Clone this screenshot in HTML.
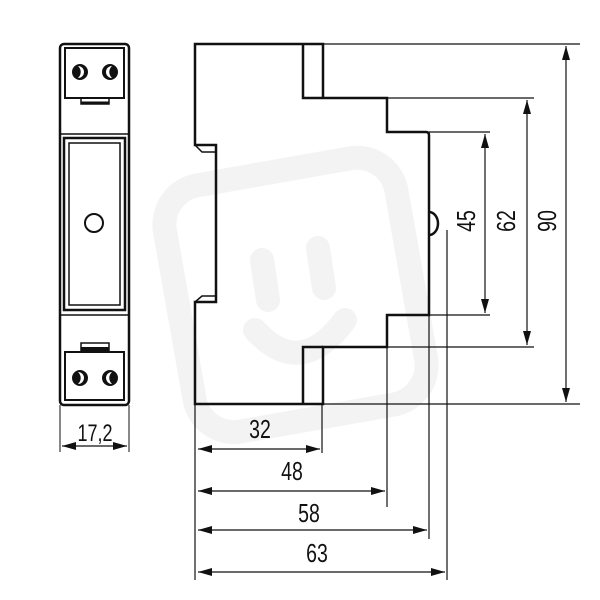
<!DOCTYPE html>
<html><head><style>body{margin:0;background:#fff}svg{display:block}text{font-family:"Liberation Sans",sans-serif;fill:#111}</style></head><body>
<svg width="600" height="600" viewBox="0 0 600 600" xmlns="http://www.w3.org/2000/svg">
<defs>
<marker id="a" viewBox="0 0 14 8" refX="14" refY="4" markerWidth="14" markerHeight="8" markerUnits="userSpaceOnUse" orient="auto-start-reverse"><path d="M0,0L14,4L0,8z" fill="#111"/></marker>
</defs>
<g fill="none" stroke="#f3f3f3" stroke-width="24" stroke-linecap="round">
<rect x="178" y="170" width="235" height="250" rx="40" transform="rotate(-10 295 295)"/>
<path d="M262 260 L268 300 M318 248 L324 288 M255 330 Q300 380 345 320"/>
</g>
<g fill="none" stroke="#111">
<rect x="60" y="44" width="69" height="361" rx="4" stroke-width="2.5"/>
<rect x="65" y="48" width="59" height="50" stroke-width="2"/>
<rect x="81" y="98" width="28" height="6" stroke-width="1.5"/>
<line x1="81" y1="103" x2="109" y2="103" stroke-width="3"/>
<line x1="60" y1="134" x2="129" y2="134" stroke-width="1.5"/>
<rect x="64" y="138" width="61" height="172" stroke-width="2.5"/>
<rect x="69" y="143" width="51" height="162" stroke-width="1.5"/>
<circle cx="94" cy="223" r="9" stroke-width="2"/>
<line x1="60" y1="315" x2="129" y2="315" stroke-width="1.5"/>
<rect x="81" y="343" width="28" height="8" stroke-width="1.5"/>
<line x1="81" y1="349" x2="109" y2="349" stroke-width="4"/>
<rect x="65" y="352" width="59" height="48" stroke-width="2"/>
<line x1="60" y1="405" x2="60" y2="452" stroke-width="1"/>
<line x1="129" y1="405" x2="129" y2="452" stroke-width="1"/>
<line x1="62" y1="446" x2="127" y2="446" stroke-width="1.3" marker-start="url(#a)" marker-end="url(#a)"/>
</g>
<g fill="#111">
<circle cx="80" cy="72" r="8"/><circle cx="110" cy="72" r="8"/>
<circle cx="80" cy="378" r="8"/><circle cx="110" cy="378" r="8"/>
</g>
<g fill="#fff">
<path d="M78 66 A6 6 0 0 1 78 78 A8 8 0 0 0 78 66z"/>
<path d="M112 66 A6 6 0 0 0 112 78 A8 8 0 0 1 112 66z"/>
<path d="M78 372 A6 6 0 0 1 78 384 A8 8 0 0 0 78 372z"/>
<path d="M112 372 A6 6 0 0 0 112 384 A8 8 0 0 1 112 372z"/>
</g>
<text transform="translate(95 441) scale(0.75 1)" font-size="24" text-anchor="middle">17,2</text>
<g fill="none" stroke="#111" stroke-width="2.5" stroke-linejoin="miter">
<path d="M303 44 H195 V145 H216 V302 H195 V404 H323 V347 H387 V315 H429 V135 Q429 132 426 132 H387 V98 H323 V44 H303 V98 H323"/>
<path d="M303 404 V347 H323"/>
<path d="M429 212 A9 11.5 0 0 1 429 235"/>
<path d="M195 145 L202 152 H216" stroke-width="1.5"/>
<path d="M195 302 L202 296 H216" stroke-width="1.5"/>
</g>
<g stroke="#111" stroke-width="1.2" fill="none">
<line x1="323" y1="44" x2="580" y2="44"/>
<line x1="323" y1="98" x2="534" y2="98"/>
<line x1="429" y1="132" x2="490" y2="132"/>
<line x1="429" y1="315" x2="490" y2="315"/>
<line x1="323" y1="347" x2="534" y2="347"/>
<line x1="323" y1="404" x2="580" y2="404"/>
<line x1="485" y1="134" x2="485" y2="313" marker-start="url(#a)" marker-end="url(#a)"/>
<line x1="527" y1="100" x2="527" y2="345" marker-start="url(#a)" marker-end="url(#a)"/>
<line x1="566" y1="46" x2="566" y2="402" marker-start="url(#a)" marker-end="url(#a)"/>
<line x1="195" y1="404" x2="195" y2="580"/>
<line x1="322" y1="404" x2="322" y2="453"/>
<line x1="387" y1="315" x2="387" y2="507"/>
<line x1="429" y1="315" x2="429" y2="539"/>
<line x1="447" y1="230" x2="447" y2="580"/>
<line x1="198" y1="449" x2="320" y2="449" marker-start="url(#a)" marker-end="url(#a)"/>
<line x1="198" y1="491" x2="385" y2="491" marker-start="url(#a)" marker-end="url(#a)"/>
<line x1="198" y1="530" x2="427" y2="530" marker-start="url(#a)" marker-end="url(#a)"/>
<line x1="198" y1="572" x2="445" y2="572" marker-start="url(#a)" marker-end="url(#a)"/>
</g>
<g font-size="26" text-anchor="middle">
<text transform="translate(260 438) scale(0.75 1)">32</text>
<text transform="translate(292 480) scale(0.75 1)">48</text>
<text transform="translate(309 522) scale(0.75 1)">58</text>
<text transform="translate(317 562) scale(0.75 1)">63</text>
<text transform="translate(475 221) rotate(-90) scale(0.75 1)">45</text>
<text transform="translate(515 221) rotate(-90) scale(0.75 1)">62</text>
<text transform="translate(556 221) rotate(-90) scale(0.75 1)">90</text>
</g>
</svg>
</body></html>
